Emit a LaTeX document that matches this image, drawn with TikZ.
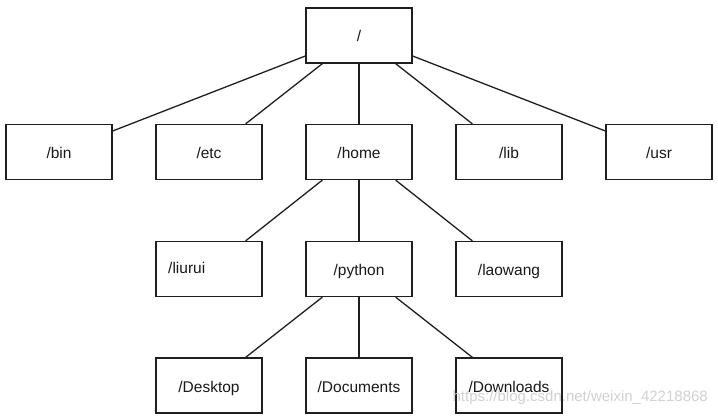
\documentclass[tikz,border=0pt]{standalone}
\usepackage{fontspec}
\setmainfont{Liberation Sans}
\begin{document}
\begin{tikzpicture}[x=1pt,y=-1pt,
  dirbox/.style={draw=black!88, line width=1.3pt, minimum width=106pt, minimum height=55pt, inner sep=0pt, text height=15pt, text depth=2pt, font=\fontsize{15.5}{18}\selectfont, text=black!90},
  link/.style={draw=black!88, line width=1.3pt}]
\useasboundingbox (0,0) rectangle (718,417);
\fill[white] (0,0) rectangle (718,417);
\node[dirbox] (root) at (359,35.5) {/};
\node[dirbox] (bin) at (59,152) {/bin};
\node[dirbox] (etc) at (209,152) {/etc};
\node[dirbox] (home) at (359,152) {/home};
\node[dirbox] (lib) at (509,152) {/lib};
\node[dirbox] (usr) at (659,152) {/usr};
\node[dirbox] (liurui) at (209,269) {};
\node[anchor=west, inner sep=0pt, text height=15pt, text depth=2pt, font=\fontsize{15.5}{18}\selectfont, text=black!90] (liuruitext) at (168,267) {/liurui};
\node[dirbox] (python) at (359,269) {/python};
\node[dirbox] (laowang) at (509,269) {/laowang};
\node[dirbox] (desktop) at (209,385.5) {/Desktop};
\node[dirbox] (documents) at (359,385.5) {/Documents};
\node[dirbox] (downloads) at (509,385.5) {/Downloads};
\node[anchor=east, inner sep=0pt, font=\fontsize{15}{18}\selectfont, text=black!18] (mark) at (708,398) {https://blog.csdn.net/weixin\_42218868};
% connectors
\draw[link] ([yshift=-20.5pt]root.west) -- ([yshift=21pt]bin.east);
\draw[link] ([xshift=17pt]root.south west) -- ([xshift=-17pt]etc.north east);
\draw[link] (root.south) -- (home.north);
\draw[link] ([xshift=-17pt]root.south east) -- ([xshift=17pt]lib.north west);
\draw[link] ([yshift=-20.5pt]root.east) -- ([yshift=21pt]usr.west);
\draw[link] ([xshift=17pt]home.south west) -- ([xshift=-17pt]liurui.north east);
\draw[link] (home.south) -- (python.north);
\draw[link] ([xshift=-17pt]home.south east) -- ([xshift=17pt]laowang.north west);
\draw[link] ([xshift=17pt]python.south west) -- ([xshift=-17pt]desktop.north east);
\draw[link] (python.south) -- (documents.north);
\draw[link] ([xshift=-17pt]python.south east) -- ([xshift=17pt]downloads.north west);
\end{tikzpicture}
\end{document}
